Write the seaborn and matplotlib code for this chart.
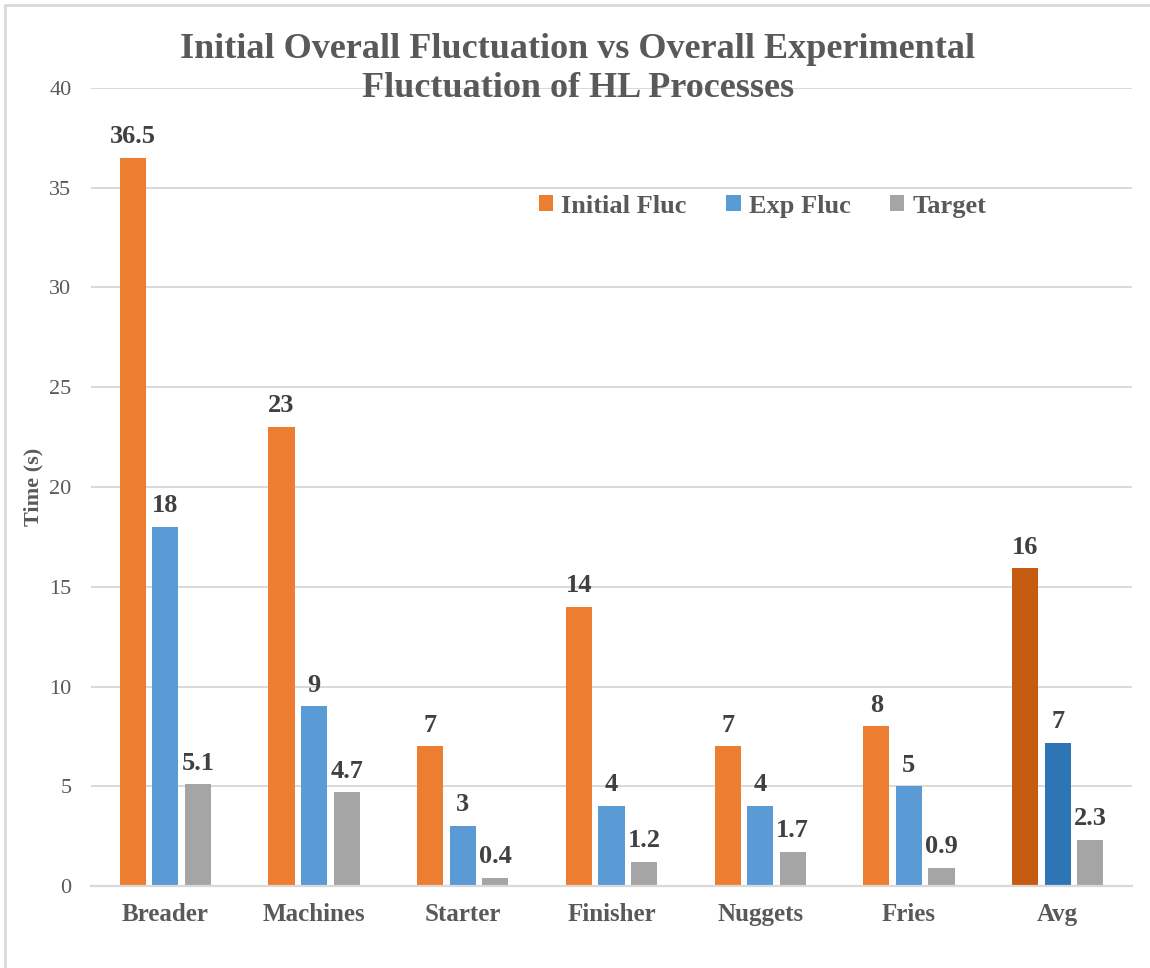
import matplotlib
matplotlib.use("Agg")
import matplotlib.pyplot as plt
import numpy as np
import pandas as pd
import seaborn as sns
from matplotlib.lines import Line2D
from matplotlib.patches import Patch

# Fluctuation times (s) per HL process
categories = ["Breader", "Machines", "Starter", "Finisher", "Nuggets", "Fries", "Avg"]
initial_fluc = [36.5, 23, 7, 14, 7, 8, 15.92]
exp_fluc = [18, 9, 3, 4, 4, 5, 7.17]
target = [5.1, 4.7, 0.4, 1.2, 1.7, 0.9, 2.33]
series_names = ["Initial Fluc", "Exp Fluc", "Target"]
y_ticks = [0, 5, 10, 15, 20, 25, 30, 35, 40]

# Decimal places used for the Avg labels of each series
avg_decimals = [0, 0, 1]

series_colors = ["#ED7D31", "#5B9BD5", "#A5A5A5"]
avg_colors = ["#C55A11", "#2E75B6", "#A5A5A5"]
text_gray = "#595959"
grid_gray = "#D9D9D9"

series_values = [initial_fluc, exp_fluc, target]
df = pd.DataFrame({
    "Process": categories * len(series_names),
    "Series": np.repeat(series_names, len(categories)),
    "Time": initial_fluc + exp_fluc + target,
})

sns.set_theme(style="white")
plt.rcParams["font.family"] = ["Liberation Serif", "DejaVu Serif"]

W, H = 1150, 968
fig = plt.figure(figsize=(W / 100, H / 100), dpi=100)
ax = fig.add_axes([91 / W, 82 / H, 1041 / W, 798 / H])

sns.barplot(data=df, x="Process", y="Time", hue="Series", order=categories,
            hue_order=series_names, palette=series_colors, saturation=1,
            width=0.657, gap=0.2, linewidth=0, errorbar=None, legend=False,
            ax=ax)

# Darker shades for the average group
for container, c in zip(ax.containers, avg_colors):
    container.patches[-1].set_facecolor(c)

# Value labels above each bar
for s, (container, vals) in enumerate(zip(ax.containers, series_values)):
    for j, (bar, v) in enumerate(zip(container.patches, vals)):
        if categories[j] == "Avg":
            label = f"{v:.{avg_decimals[s]}f}"
        else:
            label = f"{v:g}"
        ax.annotate(label, (bar.get_x() + bar.get_width() / 2, v),
                    xytext=(0, 7), textcoords="offset points",
                    ha="center", va="bottom", fontsize=19,
                    fontweight="bold", color="#404040")

ax.set_xlim(-0.5, len(categories) - 0.5)
ax.set_ylim(0, 40)
ax.set_yticks(y_ticks)
ax.set_yticklabels([str(t) for t in y_ticks], fontsize=16, color=text_gray)
ax.set_xticks(range(len(categories)))
ax.set_xticklabels(categories, fontsize=18, fontweight="bold", color=text_gray)
ax.tick_params(axis="both", length=0)
ax.tick_params(axis="y", pad=14)
ax.tick_params(axis="x", pad=12)

ax.yaxis.grid(True, color=grid_gray, linewidth=1.4)
ax.set_axisbelow(True)
for side in ["left", "right", "top"]:
    ax.spines[side].set_visible(False)
ax.spines["bottom"].set_color(grid_gray)
ax.spines["bottom"].set_linewidth(1.6)

ax.set_xlabel("")
ax.set_ylabel("Time (s)", fontsize=16, fontweight="bold", color=text_gray)
ax.yaxis.set_label_coords(-0.046, 0.5)

handles = [Patch(facecolor=c, edgecolor="none") for c in series_colors]
ax.legend(handles, series_names, loc="center", bbox_to_anchor=(0.645, 0.852),
          ncol=3, frameon=False, handlelength=0.55, handleheight=0.55,
          handletextpad=0.3, columnspacing=1.5, labelcolor=text_gray,
          prop={"family": "Liberation Serif", "weight": "bold", "size": 19})

fig.text(578 / W, 1 - 69 / H,
         "Initial Overall Fluctuation vs Overall Experimental\nFluctuation of HL Processes",
         ha="center", va="center", fontsize=26, fontweight="bold",
         color=text_gray, linespacing=1.27)

# Chart area border along the top and left edges
fig.add_artist(Line2D([5 / W, 1], [1 - 5 / H, 1 - 5 / H], color=grid_gray,
                      linewidth=2, transform=fig.transFigure))
fig.add_artist(Line2D([5 / W, 5 / W], [0, 1 - 5 / H], color=grid_gray,
                      linewidth=2, transform=fig.transFigure))

fig.savefig("out.png", dpi=100)
